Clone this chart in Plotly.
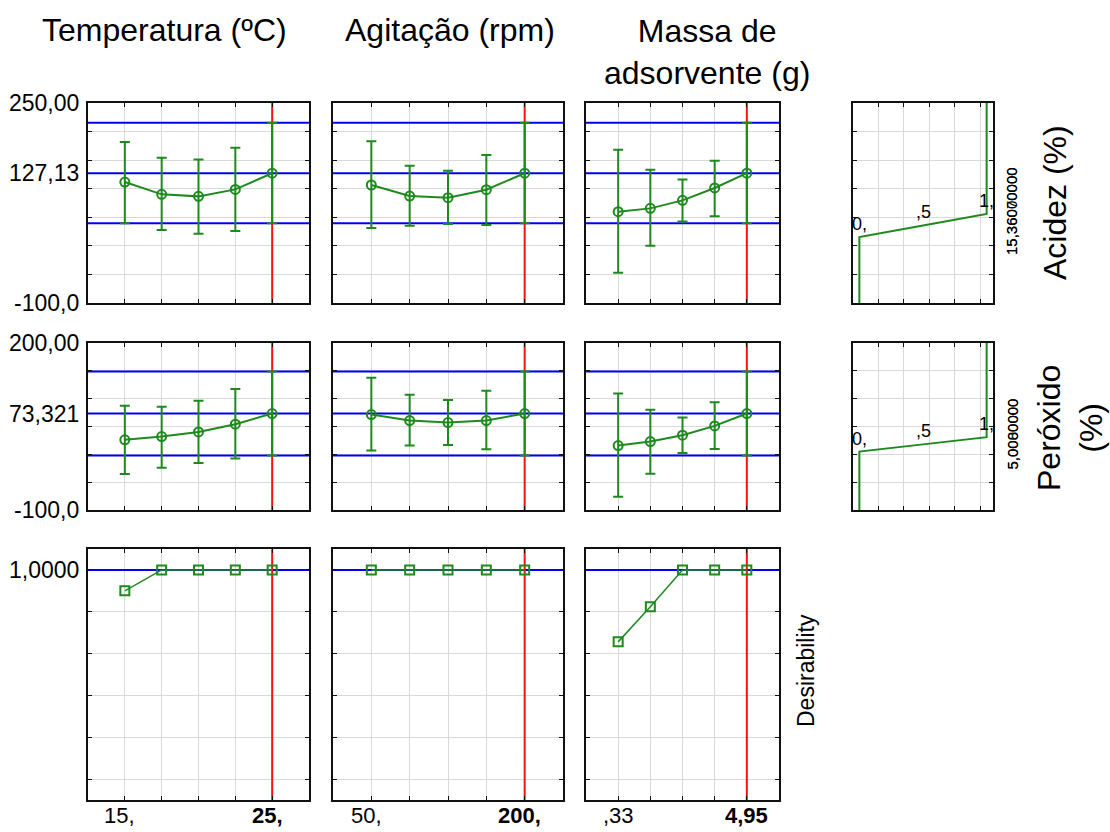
import plotly.graph_objects as go

W, H = 1110, 832
FONT = "Arial, 'Liberation Sans', sans-serif"
GREEN = "#1e8a1e"
BLUE = "#0000f0"
RED = "#ff1010"
GRID = "#d9d9d9"

# ---- factors -------------------------------------------------------------
factor_titles = ["Temperatura (ºC)", "Agitação (rpm)", "Massa de<br>adsorvente (g)"]
temp_levels = [15, 17.5, 20, 22.5, 25]
agit_levels = [50, 87.5, 125, 162.5, 200]
mass_levels = [0.33, 1.485, 2.64, 3.795, 4.95]
factor_levels = [temp_levels, agit_levels, mass_levels]

# ---- response: Acidez (%) -------------------------------------------------
acid_pred = 127.13
acid_ci_lo = 39.6
acid_ci_hi = 215.4
acid_temp_mean = [111.7, 90.1, 86.6, 98.8, 127.13]
acid_temp_lo = [39.6, 27.7, 21.3, 26.0, 39.6]
acid_temp_hi = [181.8, 154.3, 151.3, 171.8, 215.4]
acid_agit_mean = [106.5, 87.2, 84.3, 98.3, 127.13]
acid_agit_lo = [31.2, 35.3, 38.2, 36.5, 39.6]
acid_agit_hi = [182.9, 140.3, 131.5, 159.0, 215.4]
acid_mass_mean = [59.8, 65.6, 79.6, 101.3, 127.13]
acid_mass_lo = [-47.0, 0.3, 42.8, 51.6, 39.6]
acid_mass_hi = [168.3, 133.3, 116.3, 149.0, 215.4]

# ---- response: Peróxido (%) -----------------------------------------------
per_pred = 73.321
per_ci_lo = -2.2
per_ci_hi = 148.8
per_temp_mean = [26.0, 32.0, 40.3, 54.2, 73.321]
per_temp_lo = [-35.2, -24.0, -15.5, -7.6, -2.2]
per_temp_hi = [87.2, 85.3, 96.2, 117.2, 148.8]
per_agit_mean = [71.5, 60.7, 57.1, 60.7, 73.321]
per_agit_lo = [6.7, 15.7, 16.9, 9.2, -2.2]
per_agit_hi = [137.5, 107.0, 97.4, 114.1, 148.8]
per_mass_mean = [15.7, 22.9, 34.4, 51.1, 73.321]
per_mass_lo = [-76.1, -34.7, 2.5, 9.8, -2.2]
per_mass_hi = [109.3, 80.0, 66.1, 93.7, 148.8]

# ---- overall desirability ---------------------------------------------------
des_current = 1.0
des_temp = [0.90, 1.0, 1.0, 1.0, 1.0]
des_agit = [1.0, 1.0, 1.0, 1.0, 1.0]
des_mass = [0.656, 0.824, 1.0, 1.0, 1.0]

# ---- desirability functions of each response (low, medium, high) ----------
acid_df_values = [15.36, 35.7, 56.0]
per_df_values = [5.0, 17.9, 30.8]
df_levels = [0.0, 0.5, 1.0]
df_level_labels = ["0,", ",5", "1,"]
acid_df_text = ["15,36000000", "15,36070000"]
per_df_text = ["5,0000000", "5,0080000"]

response_names = ["Acidez (%)", "Peróxido<br>(%)"]
y_ranges = [[-100, 250], [-100, 200], [-0.1, 1.1]]
y_grids = [list(range(-100, 251, 50)), list(range(-100, 201, 50)),
           [0.0, 0.2, 0.4, 0.6, 0.8, 1.0]]

profiles = [
    [(acid_temp_mean, acid_temp_lo, acid_temp_hi),
     (acid_agit_mean, acid_agit_lo, acid_agit_hi),
     (acid_mass_mean, acid_mass_lo, acid_mass_hi)],
    [(per_temp_mean, per_temp_lo, per_temp_hi),
     (per_agit_mean, per_agit_lo, per_agit_hi),
     (per_mass_mean, per_mass_lo, per_mass_hi)],
]
preds = [(acid_pred, acid_ci_lo, acid_ci_hi), (per_pred, per_ci_lo, per_ci_hi)]
des_profiles = [des_temp, des_agit, des_mass]
df_values = [acid_df_values, per_df_values]
df_texts = [acid_df_text, per_df_text]

# panel boxes in pixels
col_px = [(88, 309), (333, 563), (586, 779), (853, 993)]
row_px = [(103, 303), (343, 510), (549, 800)]


def stat_fmt(v):
    ip = str(int(v))
    dec = max(0, 5 - len(ip))
    return f"{v:.{dec}f}".replace(".", ",")


def level_fmt(v):
    s = f"{v:g}".replace(".", ",")
    if "," not in s:
        s += ","
    if s.startswith("0,"):
        s = s[1:]
    return s


fig = go.Figure()
layout = dict(
    width=W, height=H, margin=dict(l=0, r=0, t=0, b=0),
    paper_bgcolor="white", plot_bgcolor="white", showlegend=False,
    font=dict(family=FONT, color="black"),
)
annotations = []

axis_ids = {}
n = 0
for r in range(3):
    for c in range(4):
        if r == 2 and c == 3:
            continue
        n += 1
        axis_ids[(r, c)] = n


def names(k):
    sfx = "" if k == 1 else str(k)
    return "x" + sfx, "y" + sfx, "xaxis" + sfx, "yaxis" + sfx


def x_range(c):
    if c == 3:
        return [-0.05, 1.05]
    lv = factor_levels[c]
    step = lv[1] - lv[0]
    return [lv[0] - step, lv[-1] + step]


frame = dict(showline=True, mirror="ticks", linecolor="#111111", linewidth=2,
             ticks="inside", ticklen=4, tickcolor="#111111", tickwidth=1,
             showgrid=True, gridcolor=GRID, gridwidth=1, zeroline=False,
             showticklabels=False, fixedrange=True)

for (r, c), k in axis_ids.items():
    xn, yn, xa, ya = names(k)
    a0, a1 = col_px[c]
    b0, b1 = row_px[r]
    xt = [0.15, 0.35, 0.55, 0.75, 0.95] if c == 3 else factor_levels[c]
    layout[xa] = dict(frame, domain=[a0 / W, a1 / W], anchor=yn,
                      range=x_range(c), tickvals=xt)
    layout[ya] = dict(frame, domain=[1 - b1 / H, 1 - b0 / H], anchor=xn,
                      range=y_ranges[r], tickvals=y_grids[r])

# response rows
for r in range(2):
    pred, lo, hi = preds[r]
    y0, y1 = y_ranges[r]
    for c in range(3):
        k = axis_ids[(r, c)]
        xn, yn, _, _ = names(k)
        lv = factor_levels[c]
        xr = x_range(c)
        fig.add_trace(go.Scatter(
            x=[xr[0], xr[1], None, xr[0], xr[1], None, xr[0], xr[1]],
            y=[lo, lo, None, pred, pred, None, hi, hi],
            mode="lines", line=dict(color=BLUE, width=2),
            xaxis=xn, yaxis=yn, hoverinfo="skip"))
        fig.add_trace(go.Scatter(
            x=[lv[-1], lv[-1]], y=[y0, y1], mode="lines",
            line=dict(color=RED, width=2), xaxis=xn, yaxis=yn, hoverinfo="skip"))
        mean, mlo, mhi = profiles[r][c]
        fig.add_trace(go.Scatter(
            x=lv, y=mean, mode="lines+markers",
            line=dict(color=GREEN, width=2),
            marker=dict(symbol="circle-open", size=9, color=GREEN,
                        line=dict(width=2, color=GREEN)),
            error_y=dict(type="data", symmetric=False,
                         array=[h - m for h, m in zip(mhi, mean)],
                         arrayminus=[m - l for m, l in zip(mean, mlo)],
                         color=GREEN, thickness=2, width=5),
            xaxis=xn, yaxis=yn))

    # desirability function of the response
    k = axis_ids[(r, 3)]
    xn, yn, _, _ = names(k)
    vals = df_values[r]
    fig.add_trace(go.Scatter(
        x=[df_levels[0]] + df_levels + [df_levels[-1]],
        y=[y0] + vals + [y1], mode="lines",
        line=dict(color=GREEN, width=2), xaxis=xn, yaxis=yn, hoverinfo="skip"))
    for d, v, t in zip(df_levels, vals, df_level_labels):
        annotations.append(dict(x=d, y=v, xref=xn, yref=yn, text=t,
                                showarrow=False, yshift=13, xanchor="center",
                                yanchor="middle", font=dict(size=18)))
    ymid = (row_px[r][0] + row_px[r][1]) / 2 + 8
    for t in df_texts[r]:
        annotations.append(dict(x=1012 / W, y=1 - ymid / H, xref="paper",
                                yref="paper", text=t, textangle=-90,
                                xanchor="center", yanchor="middle",
                                showarrow=False, font=dict(size=15)))

    # left value labels
    yl = names(axis_ids[(r, 0)])[1]
    for v in (y1, pred, y0):
        annotations.append(dict(x=81 / W, y=v, xref="paper", yref=yl,
                                text=stat_fmt(v), showarrow=False,
                                xanchor="right", yanchor="middle",
                                font=dict(size=23)))

# overall desirability row
for c in range(3):
    k = axis_ids[(2, c)]
    xn, yn, _, _ = names(k)
    lv = factor_levels[c]
    xr = x_range(c)
    fig.add_trace(go.Scatter(x=xr, y=[des_current, des_current], mode="lines",
                             line=dict(color=BLUE, width=2),
                             xaxis=xn, yaxis=yn, hoverinfo="skip"))
    fig.add_trace(go.Scatter(x=[lv[-1], lv[-1]], y=y_ranges[2], mode="lines",
                             line=dict(color=RED, width=2),
                             xaxis=xn, yaxis=yn, hoverinfo="skip"))
    fig.add_trace(go.Scatter(
        x=lv, y=des_profiles[c], mode="lines+markers",
        line=dict(color=GREEN, width=1.5),
        marker=dict(symbol="square-open", size=9, color=GREEN,
                    line=dict(width=2, color=GREEN)),
        xaxis=xn, yaxis=yn))
    # level labels under the panel
    for v, bold in ((lv[0], False), (lv[-1], True)):
        s = level_fmt(v)
        shift = -5 if s.endswith(",") else 0
        annotations.append(dict(x=v, y=1 - 815 / H, xref=xn, yref="paper",
                                text=("<b>" + s + "</b>") if bold else s,
                                showarrow=False, xanchor="center",
                                yanchor="middle", xshift=shift,
                                font=dict(size=22)))

annotations.append(dict(x=81 / W, y=des_current, xref="paper",
                        yref=names(axis_ids[(2, 0)])[1], text=stat_fmt(des_current),
                        showarrow=False, xanchor="right", yanchor="middle",
                        font=dict(size=23)))

# column titles
title_pos = [(164, 30), (450, 30), (707, 52)]
for t, (px, py) in zip(factor_titles, title_pos):
    annotations.append(dict(x=px / W, y=1 - py / H, xref="paper", yref="paper",
                            text=t, showarrow=False, xanchor="center",
                            yanchor="middle", font=dict(size=32)))

# row titles
row_title_pos = [(1055, 203), (1070, 428)]
for t, (px, py) in zip(response_names, row_title_pos):
    annotations.append(dict(x=px / W, y=1 - py / H, xref="paper", yref="paper",
                            text=t, textangle=-90, showarrow=False,
                            xanchor="center", yanchor="middle",
                            font=dict(size=32)))
annotations.append(dict(x=806 / W, y=1 - 671 / H, xref="paper", yref="paper",
                        text="Desirability", textangle=-90, showarrow=False,
                        xanchor="center", yanchor="middle",
                        font=dict(size=23)))

layout["annotations"] = annotations
fig.update_layout(**layout)
fig.write_html("out.html")
